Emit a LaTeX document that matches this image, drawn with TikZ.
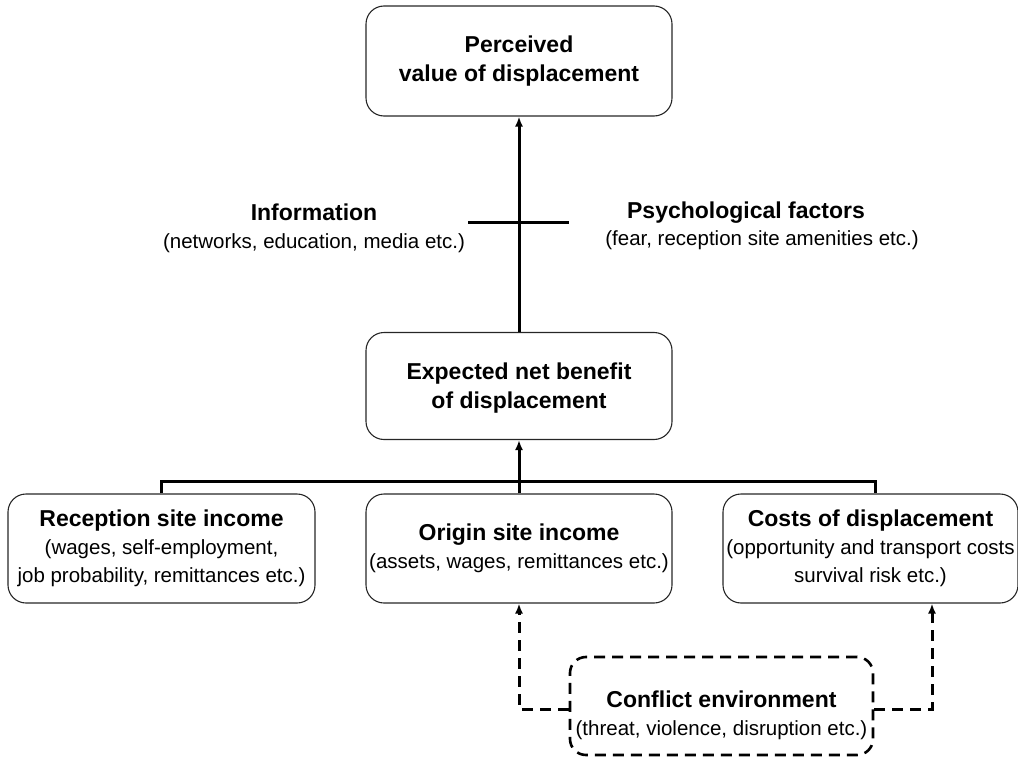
\documentclass[tikz,border=0pt]{standalone}
\usepackage{fontspec}
\setmainfont{Liberation Sans}
\usetikzlibrary{arrows.meta}
\newcommand\hdfont{\fontsize{23}{29}\selectfont\bfseries}
\newcommand\bdfont{\fontsize{20.5}{28}\selectfont}
\begin{document}
\begin{tikzpicture}[x=1pt,y=-1pt,
  box/.style={draw=black!85, line width=1.1pt, rounded corners=18pt, align=center, inner sep=1pt},
  conn/.style={line width=3pt},
  arr/.style={conn, -{Latex[length=10pt,width=8pt]}},
  dasharr/.style={line width=3pt, dash pattern=on 11pt off 7pt, -{Latex[length=10pt,width=8pt]}},
  dashbox/.style={draw=black, line width=2.6pt, dash pattern=on 11pt off 7pt, rounded corners=16pt, align=center, inner sep=1pt},
  lbl/.style={align=center, inner sep=0pt}]
\useasboundingbox (0,0) rectangle (1018,768);

% boxes
\node[box, minimum width=306pt, minimum height=110pt, font=\hdfont] (top) at (519,61) {Perceived\\value of displacement};
\node[box, minimum width=306pt, minimum height=107pt, font=\hdfont] (mid) at (519,386) {\rule{0pt}{20pt}Expected net benefit\\of displacement};
\node[box, minimum width=307pt, minimum height=109pt, font=\bdfont] (rec) at (161.5,548.5) {{\hdfont Reception site income}\\(wages, self-employment,\\job probability, remittances etc.)};
\node[box, minimum width=306pt, minimum height=109pt, font=\bdfont] (orig) at (519,548.5) {{\hdfont Origin site income}\\(assets, wages, remittances etc.)};
\node[box, minimum width=295pt, minimum height=109pt, font=\bdfont] (cost) at (870.5,548.5) {{\hdfont Costs of displacement}\\(opportunity and transport costs\\survival risk etc.)};
\node[dashbox, minimum width=303pt, minimum height=98pt, font=\bdfont] (conf) at (721.5,706) {{\hdfont\rule{0pt}{36pt}Conflict environment}\\(threat, violence, disruption etc.)};

% side labels
\node[lbl, font=\bdfont] (info) at (314,228) {{\hdfont Information}\\(networks, education, media etc.)};
\node[lbl, font=\hdfont] (psyh) at (746,213) {Psychological factors};
\node[lbl, font=\bdfont] (psys) at (762,240) {(fear, reception site amenities etc.)};

% connectors
\draw[arr] (mid.north) -- (top.south);
\coordinate (xl) at (468,222);
\coordinate (xr) at (569,222);
\draw[conn] (xl) -- (xr);

\coordinate (bus) at (519,481);
\draw[conn] (rec.north) |- (bus) -| ([xshift=4.5pt]cost.north);
\draw[arr] (orig.north) -- (mid.south);

\draw[dasharr] ([yshift=-3pt]conf.west) -| (orig.south);
\draw[dasharr] ([yshift=-3pt]conf.east) -| ([xshift=61.5pt]cost.south);
\end{tikzpicture}
\end{document}
